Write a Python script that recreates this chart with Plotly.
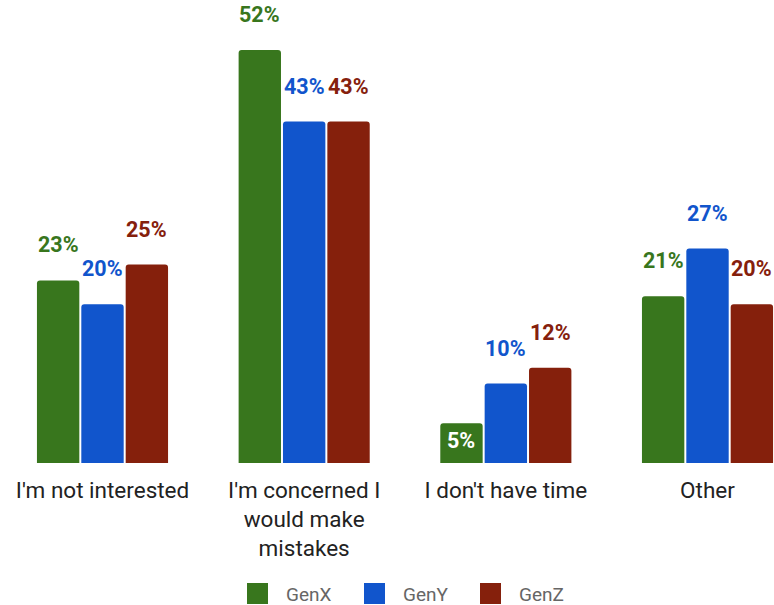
import plotly.graph_objects as go

# Survey answers by generation (percent of respondents)
categories = ["I'm not interested", "I'm concerned I would make mistakes",
              "I don't have time", "Other"]
tick_labels = ["I'm not interested", "I'm concerned I<br>would make<br>mistakes",
               "I don't have time", "Other"]
series_names = ["GenX", "GenY", "GenZ"]
genx = [23, 52, 5, 21]
geny = [20, 43, 10, 27]
genz = [25, 43, 12, 20]
colors = ["#38761d", "#1155cc", "#85200c"]

values = [genx, geny, genz]
x_pos = list(range(len(categories)))

W, H = 774, 605
BOTTOM = 142
plot_h = H - BOTTOM
px_per_unit = 7.94
y_top = plot_h / px_per_unit

cat_px = 201.67
x_left = -102.5 / cat_px
x_right = x_left + W / cat_px

BARGAP = 0.34
slot = (1 - BARGAP) / len(series_names)

fig = go.Figure()
for name, vals, col in zip(series_names, values, colors):
    fig.add_trace(go.Bar(
        x=x_pos, y=vals, name=name, marker=dict(color=col, line=dict(width=0)),
        showlegend=False, hoverinfo="skip",
    ))

# Value labels above each bar (inside for very short bars)
annotations = []
for s, (vals, col) in enumerate(zip(values, colors)):
    offset = (s - 1) * slot
    for i, v in enumerate(vals):
        inside = v < 8
        annotations.append(dict(
            x=i + offset, y=v, xref="x", yref="y",
            text=f"{v}%", showarrow=False,
            font=dict(family="Roboto", size=21.5, color="white" if inside else col,
                      weight="bold"),
            yanchor="middle" if inside else "bottom",
            yshift=-17 if inside else 21,
        ))

# Legend drawn as coloured squares with labels underneath the chart
legend_x = [247, 364, 480]
shapes = []
for name, col, lx in zip(series_names, colors, legend_x):
    shapes.append(dict(
        type="rect", xref="paper", yref="paper",
        x0=lx / W, x1=(lx + 21) / W,
        y0=(plot_h - 604) / plot_h, y1=(plot_h - 583) / plot_h,
        fillcolor=col, line=dict(width=0),
    ))
    annotations.append(dict(
        x=(lx + 37) / W, y=(plot_h - 594) / plot_h, xref="paper", yref="paper",
        text=name, showarrow=False, xanchor="left", yanchor="middle",
        font=dict(family="Roboto", size=19, color="#666666"),
    ))

fig.update_layout(
    width=W, height=H,
    margin=dict(l=0, r=0, t=0, b=BOTTOM),
    paper_bgcolor="white", plot_bgcolor="white",
    barmode="group", bargap=BARGAP, bargroupgap=0.045,
    barcornerradius=3,
    font=dict(family="Roboto"),
    xaxis=dict(
        range=[x_left, x_right], tickmode="array", tickvals=x_pos,
        ticktext=tick_labels, showgrid=False, zeroline=False, showline=False,
        ticks="", ticklabelstandoff=11,
        tickfont=dict(family="Roboto", size=22.5, color="#222222"),
    ),
    yaxis=dict(range=[0, y_top], visible=False, showgrid=False, zeroline=False),
    annotations=annotations,
    shapes=shapes,
)

fig.write_html("out.html")
